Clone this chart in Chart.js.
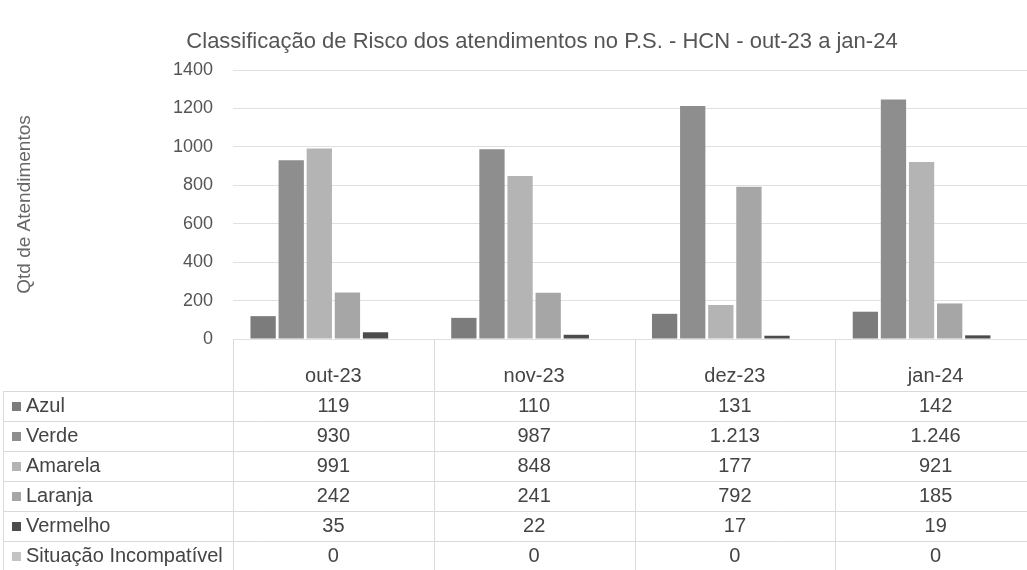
<!DOCTYPE html>
<html>
<head>
<meta charset="utf-8">
<script src="https://cdn.jsdelivr.net/npm/chart.js@4.4.1/dist/chart.umd.min.js"></script>
<style>
  html, body { margin: 0; padding: 0; background: #fff; overflow: hidden; }
  #wrap { width: 1040px; height: 570px; position: relative; }
</style>
</head>
<body>
<div id="wrap"><canvas id="chart"></canvas></div>
<script>
const chartTitle = "Classificação de Risco dos atendimentos no P.S. - HCN - out-23 a jan-24";
const months = ["out-23", "nov-23", "dez-23", "jan-24"];
const azul = [119, 110, 131, 142];
const verde = [930, 987, 1213, 1246];
const amarela = [991, 848, 177, 921];
const laranja = [242, 241, 792, 185];
const vermelho = [35, 22, 17, 19];
const incompativel = [0, 0, 0, 0];
const seriesNames = ["Azul", "Verde", "Amarela", "Laranja", "Vermelho", "Situação Incompatível"];
const seriesData = [azul, verde, amarela, laranja, vermelho, incompativel];
const seriesColors = ["#7c7c7c", "#8e8e8e", "#b4b4b4", "#a6a6a6", "#4c4c4c", "#c4c4c4"];

const FONT = "'Liberation Sans', Arial, sans-serif";

// numbers in the table use pt-BR thousands separator (1.213)
function fmt(n) {
  return String(n).replace(/\B(?=(\d{3})+(?!\d))/g, ".");
}

// title is drawn by hand: in the original it is not centred on the canvas
const titlePlugin = {
  id: "titleText",
  afterDraw(chart) {
    const { ctx } = chart;
    ctx.save();
    ctx.font = "22px " + FONT;
    ctx.fillStyle = "#555";
    ctx.textAlign = "center";
    ctx.textBaseline = "middle";
    ctx.fillText(chartTitle, 542, 42);
    ctx.restore();
  }
};

// Excel style data table under the plot
const dataTable = {
  id: "dataTable",
  afterDraw(chart) {
    const { ctx, chartArea, scales } = chart;
    const xs = scales.x;
    const catW = (chartArea.right - chartArea.left) / months.length;
    const top = chartArea.bottom;
    const headerY = top + 37;
    const rowH = 30;
    const bottom = chart.height;

    ctx.save();
    ctx.strokeStyle = "#dadada";
    ctx.lineWidth = 1;

    // vertical column borders
    for (let i = 0; i <= months.length; i++) {
      const x = Math.round(chartArea.left + i * catW) + 0.5;
      ctx.beginPath();
      ctx.moveTo(x, top);
      ctx.lineTo(x, bottom);
      ctx.stroke();
    }
    ctx.beginPath();
    ctx.moveTo(3.5, headerY + rowH / 2);
    ctx.lineTo(3.5, bottom);
    ctx.stroke();

    // horizontal row borders
    for (let r = 0; r <= seriesNames.length; r++) {
      const y = Math.round(headerY + rowH / 2 + r * rowH) + 0.5;
      if (y > bottom) break;
      ctx.beginPath();
      ctx.moveTo(3, y);
      ctx.lineTo(chartArea.right, y);
      ctx.stroke();
    }

    ctx.font = "20px " + FONT;
    ctx.fillStyle = "#444";
    ctx.textBaseline = "middle";
    ctx.textAlign = "center";
    months.forEach((m, i) => {
      ctx.fillText(m, xs.getPixelForValue(i), headerY);
    });

    seriesNames.forEach((name, r) => {
      const y = headerY + (r + 1) * rowH;
      ctx.fillStyle = seriesColors[r];
      ctx.fillRect(12, y - 4, 9, 9);
      ctx.fillStyle = "#444";
      ctx.textAlign = "left";
      ctx.fillText(name, 26, y);
      ctx.textAlign = "center";
      seriesData[r].forEach((v, i) => {
        ctx.fillText(fmt(v), xs.getPixelForValue(i), y);
      });
    });
    ctx.restore();
  }
};

const ctx = document.getElementById("chart").getContext("2d");
new Chart(ctx, {
  type: "bar",
  data: {
    labels: months,
    datasets: seriesNames.map((name, i) => ({
      label: name,
      data: seriesData[i],
      backgroundColor: seriesColors[i],
      borderWidth: 0,
      barPercentage: 0.9,
      categoryPercentage: 0.84,
    })),
  },
  options: {
    responsive: true,
    maintainAspectRatio: false,
    animation: false,
    layout: {
      padding: { top: 70, left: 10, right: 4, bottom: 231 },
    },
    scales: {
      x: {
        display: false,
      },
      y: {
        min: 0,
        max: 1400,
        ticks: {
          stepSize: 200,
          padding: 20,
          color: "#555",
          font: { family: FONT, size: 18 },
          callback: (v) => String(v),
        },
        grid: {
          color: "#e0e0e0",
          drawTicks: false,
        },
        border: { display: false },
        title: {
          display: true,
          text: "Qtd de Atendimentos",
          color: "#666",
          font: { family: FONT, size: 19 },
          padding: { top: 3, bottom: 0 },
        },
        afterFit(scale) {
          scale.width = 223;
        },
      },
    },
    plugins: {
      legend: { display: false },
      tooltip: { enabled: false },
      title: { display: false },
    },
  },
  plugins: [titlePlugin, dataTable],
});
</script>
</body>
</html>
